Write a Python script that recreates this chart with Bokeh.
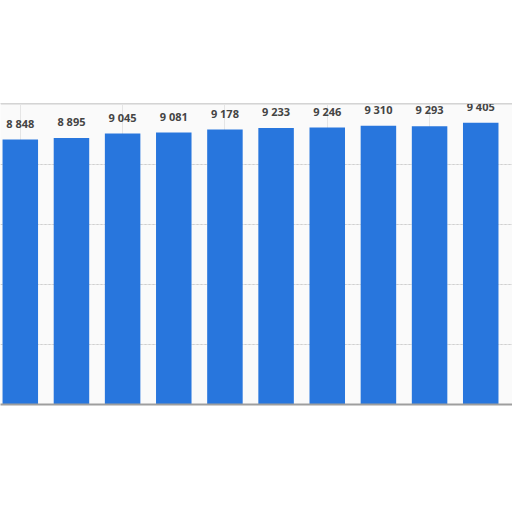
from bokeh.plotting import figure
from bokeh.embed import file_html
from bokeh.resources import INLINE
from bokeh.models import ColumnDataSource, LinearAxis, Grid, FixedTicker, Range1d
from bokeh.core.properties import value

# bar values, left to right (category labels are cropped out of the picture)
values = [8848, 8895, 9045, 9081, 9178, 9233, 9246, 9310, 9293, 9405]
positions = list(range(len(values)))
labels = ["{:,}".format(v).replace(",", " ") for v in values]
grid_ticks = [2000, 4000, 6000, 8000]

source = ColumnDataSource(data=dict(x=positions, top=values, label=labels))

p = figure(width=512, height=512,
           x_range=Range1d(-0.387, 9.621),
           y_range=Range1d(0, 10050),
           x_axis_location=None, y_axis_location=None,
           toolbar_location=None, output_backend="svg",
           min_border_left=0, min_border_right=0,
           min_border_top=103, min_border_bottom=108)

p.background_fill_color = "#fafafa"
p.border_fill_color = "white"
p.outline_line_color = None

# dotted horizontal grid lines
grid = Grid(dimension=1, ticker=FixedTicker(ticks=grid_ticks),
            grid_line_color="#cfcfcf", grid_line_dash="2 2")
p.add_layout(grid)

# bars
p.vbar(x="x", top="top", width=0.694, source=source,
       fill_color="#2876dd", line_color=None)

# value labels
p.text(x="x", y="top", text="label", source=source,
       text_align="center", text_baseline="bottom", y_offset=-9,
       text_font=value("Open Sans"), text_font_style="bold",
       text_font_size="11px", text_color="#444444")

# top border and bottom axis line
top_axis = LinearAxis(ticker=FixedTicker(ticks=[]),
                      axis_line_color="#d4d4d4", axis_line_width=1,
                      major_tick_line_color=None, minor_tick_line_color=None,
                      major_label_text_font_size="0px")
bottom_axis = LinearAxis(ticker=FixedTicker(ticks=[]),
                         axis_line_color="#9e9e9e", axis_line_width=2,
                         major_tick_line_color=None, minor_tick_line_color=None,
                         major_label_text_font_size="0px")
p.add_layout(top_axis, "above")
p.add_layout(bottom_axis, "below")

open("out.html", "w").write(file_html(p, INLINE))
